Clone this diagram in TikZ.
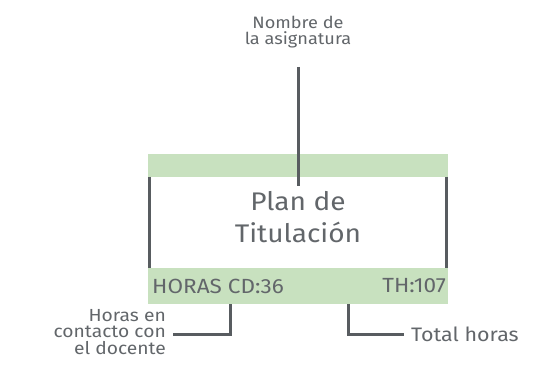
\documentclass[tikz,border=0pt]{standalone}
\usepackage{fontspec}
\setmainfont{Fira Sans}[FakeStretch=1.1]
\definecolor{bandgreen}{HTML}{C8E1BF}
\definecolor{linegray}{HTML}{585C60}
\definecolor{textgray}{HTML}{62666A}
\begin{document}
\begin{tikzpicture}[x=1pt,y=-1pt,
  band/.style={fill=bandgreen,draw=none,inner sep=0pt},
  conn/.style={draw=linegray,line width=3pt},
  lbl/.style={text=textgray,inner sep=0pt,font=\fontsize{17.5}{16.5}\selectfont}]
\useasboundingbox (0,0) rectangle (541,366);
\node[band,minimum width=300pt,minimum height=23pt] (top) at (298,165.5) {};
\node[band,minimum width=300pt,minimum height=36pt] (bot) at (298,286) {};
\coordinate (tl) at (149,177);
\coordinate (bl) at (149,268);
\coordinate (tr) at (446,177);
\coordinate (br) at (446,268);
\draw[conn] (tl) -- (bl);
\draw[conn] (tr) -- (br);
\node[text=textgray,inner sep=0pt,align=center,font=\fontsize{25.5}{32}\selectfont] (title) at (298,217) {Plan de\\Titulación};
\node[text=textgray,inner sep=0pt,anchor=west,font=\fontsize{20.5}{21}\selectfont] (cd) at (152,286) {HORAS CD:36};
\node[text=textgray,inner sep=0pt,anchor=east,font=\fontsize{20.5}{21}\selectfont] (th) at (446,286) {TH:107};
\node[lbl,align=center,font=\fontsize{16.5}{15.5}\selectfont] (nombre) at (298,32) {Nombre de\\la asignatura};
\coordinate (nt) at (298,67);
\coordinate (nb) at (298,186);
\draw[conn] (nt) -- (nb);
\node[lbl,align=right,anchor=east] (horas) at (166,332) {Horas en\\contacto con\\el docente};
\coordinate (h1) at (230,304);
\coordinate (h2) at (173,334);
\draw[conn] (h1) |- (h2);
\node[lbl,anchor=west,font=\fontsize{19.5}{20}\selectfont] (total) at (411,334) {Total horas};
\coordinate (t1) at (348,304);
\coordinate (t2) at (404,334);
\draw[conn] (t1) |- (t2);
\end{tikzpicture}
\end{document}
